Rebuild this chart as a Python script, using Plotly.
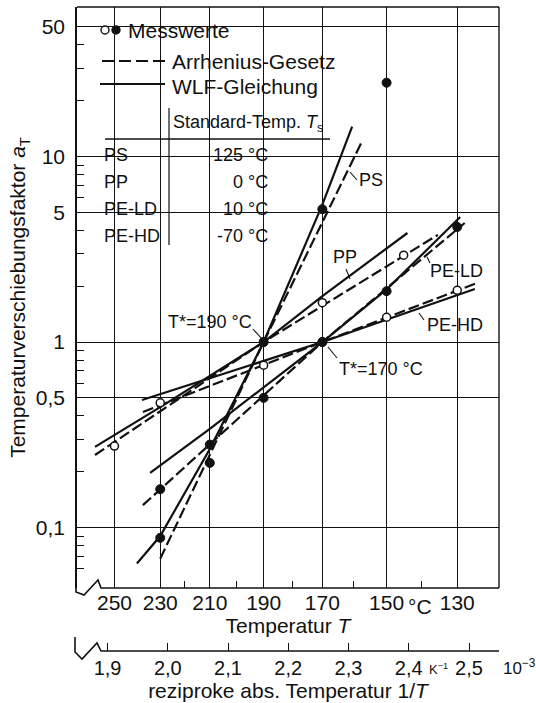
import plotly.graph_objects as go

# ---------------- measured shift factors (T in °C) ----------------
ps_T = [230, 210, 190, 170, 150]
ps_a = [0.088, 0.223, 1.0, 5.2, 25.0]
pp_T = [250, 190, 170, 145]
pp_a = [0.275, 1.0, 1.63, 2.94]
peld_T = [230, 210, 190, 170, 150, 130]
peld_a = [0.161, 0.28, 0.5, 1.0, 1.88, 4.17]
pehd_T = [230, 190, 170, 150, 130]
pehd_a = [0.47, 0.75, 1.0, 1.36, 1.9]

# ---------------- WLF equation (solid) ----------------
ps_wlf_T = [240, 230, 210, 190, 170, 160.5]
ps_wlf_a = [0.064, 0.09, 0.265, 1.0, 5.5, 14.5]
pp_wlf_T = [259, 230, 190, 170, 143.9]
pp_wlf_a = [0.272, 0.446, 1.0, 1.77, 3.87]
peld_wlf_T = [234.3, 210, 190, 170, 150, 129.2]
peld_wlf_a = [0.197, 0.34, 0.57, 1.0, 1.92, 4.72]
pehd_wlf_T = [237.8, 170, 125.3]
pehd_wlf_a = [0.487, 1.0, 1.93]

# ---------------- Arrhenius law (dashed) ----------------
ps_arr_T = [230, 190, 157.5]
ps_arr_a = [0.068, 1.0, 12.0]
pp_arr_T = [259, 190, 135.3]
pp_arr_a = [0.246, 1.0, 3.78]
peld_arr_T = [237.4, 170, 128]
peld_arr_a = [0.132, 1.0, 4.38]
pehd_arr_T = [237.4, 170, 124.7]
pehd_arr_a = [0.419, 1.0, 2.08]

# ---------------- axis ticks ----------------
temp_ticks = [250, 230, 210, 190, 170, 150, 130]
temp_minor = [220, 200, 180, 160, 140]
recip_ticks = [1.9, 2.0, 2.1, 2.2, 2.3, 2.4, 2.5]
recip_labels = ["1,9", "2,0", "2,1", "2,2", "2,3", "2,4", "2,5"]
a_ticks = [0.1, 0.5, 1, 5, 10, 50]
a_labels = ["0,1", "0,5", "1", "5", "10", "50"]
a_minor = [0.06, 0.07, 0.08, 0.09, 0.2, 0.3, 0.4, 0.6, 0.7, 0.8, 0.9,
           2, 3, 4, 6, 7, 8, 9, 20, 30, 40]

# standard temperatures table
table_names = ["PS", "PP", "PE-LD", "PE-HD"]
table_temps = ["125 °C", "0 °C", "10 °C", "-70 °C"]


def inv(T):
    """reciprocal absolute temperature in 10^-3 1/K"""
    return [1000.0 / (t + 273.15) for t in T] if isinstance(T, list) else 1000.0 / (T + 273.15)


W, H = 536, 703
ML, MR, MT, MB = 77, 37, 7, 52
PW, PH = W - ML - MR, H - MT - MB
X_RANGE = [1.8493, 2.5498]


def X(p):  # pixel column -> paper fraction
    return (p - ML) / PW


def Y(p):  # pixel row -> paper fraction
    return (H - MB - p) / PH


FONT = "Liberation Sans, Arial, Helvetica, sans-serif"
BLACK = "#111111"

fig = go.Figure()

line_sets = [
    (ps_wlf_T, ps_wlf_a, "solid"), (ps_arr_T, ps_arr_a, "11px,4px"),
    (pp_wlf_T, pp_wlf_a, "solid"), (pp_arr_T, pp_arr_a, "11px,4px"),
    (peld_wlf_T, peld_wlf_a, "solid"), (peld_arr_T, peld_arr_a, "11px,4px"),
    (pehd_wlf_T, pehd_wlf_a, "solid"), (pehd_arr_T, pehd_arr_a, "11px,4px"),
]
for T, a, dash in line_sets:
    fig.add_trace(go.Scatter(x=inv(T), y=a, mode="lines",
                             line=dict(color=BLACK, width=2.2, dash=dash),
                             showlegend=False, hoverinfo="skip"))

# open symbols: PP, PE-HD
for T, a in [(pp_T, pp_a), (pehd_T, pehd_a)]:
    fig.add_trace(go.Scatter(x=inv(T), y=a, mode="markers",
                             marker=dict(symbol="circle", size=8, color="white",
                                         line=dict(color=BLACK, width=1.5)),
                             showlegend=False))
# filled symbols: PS, PE-LD
for T, a in [(ps_T, ps_a), (peld_T, peld_a)]:
    fig.add_trace(go.Scatter(x=inv(T), y=a, mode="markers",
                             marker=dict(symbol="circle", size=9, color=BLACK,
                                         line=dict(color=BLACK, width=1)),
                             showlegend=False))

# the reciprocal-temperature scale shares the same data (kept invisible)
fig.add_trace(go.Scatter(x=inv(ps_T), y=ps_a, xaxis="x2", yaxis="y",
                         mode="markers", marker=dict(opacity=0),
                         showlegend=False, hoverinfo="skip"))

shapes = []
# white panels behind legend and table (grid hidden there)
for x0, y0, x1, y1 in [(97, 17, 238, 29), (97, 29, 347, 152), (97, 152, 303, 256)]:
    shapes.append(dict(type="rect", xref="paper", yref="paper",
                       x0=X(x0), x1=X(x1), y0=Y(y1), y1=Y(y0),
                       fillcolor="white", line=dict(width=0), layer="between"))


def seg(x0, y0, x1, y1, w=1.3, dash="solid"):
    shapes.append(dict(type="line", xref="paper", yref="paper",
                       x0=X(x0), y0=Y(y0), x1=X(x1), y1=Y(y1),
                       line=dict(color=BLACK, width=w, dash=dash)))


def path(pts, w=1.6):
    d = "M " + " L ".join(f"{X(a):.5f},{Y(b):.5f}" for a, b in pts)
    shapes.append(dict(type="path", xref="paper", yref="paper", path=d,
                       line=dict(color=BLACK, width=w)))


# frame: top and right
seg(77, 7, 499, 7, 1.4)
seg(499, 7, 499, 588, 1.4)
# temperature axis with break
path([(76, 586), (76, 592), (84, 595), (98, 580), (101, 588), (499, 588)])
# reciprocal temperature axis with break
path([(75, 637), (75, 652), (82, 659), (97, 643), (101, 651), (499, 651)])

# table rules
seg(105, 139, 330, 139, 1.6)
seg(169, 108, 169, 245, 1.2)

# legend samples
seg(102, 61, 165, 61, 2, "12px,5px")
seg(100, 84, 165, 84, 2)
for cx, fill in [(105, "white"), (116, BLACK)]:
    shapes.append(dict(type="circle", xref="paper", yref="paper",
                       x0=X(cx - 4), x1=X(cx + 4), y0=Y(34), y1=Y(26),
                       fillcolor=fill, line=dict(color=BLACK, width=1.4)))

# leader lines for labels
for x0, y0, x1, y1 in [(253, 329, 262, 339), (328, 347, 337, 358),
                       (350, 172, 357, 180), (346, 269, 350, 279),
                       (427, 257, 430, 263), (419, 313, 424, 320)]:
    seg(x0, y0, x1, y1, 1.1)

ann = []


def text(s, x, y, size, anchor="left"):
    ann.append(dict(text=s, x=X(x), y=Y(y), xref="paper", yref="paper",
                    xanchor=anchor, yanchor="middle", showarrow=False,
                    font=dict(size=size, color=BLACK, family=FONT)))


text("Messwerte", 126, 31, 21)
text("Arrhenius-Gesetz", 170, 62, 21)
text("WLF-Gleichung", 170, 86, 21)
text("Standard-Temp. <i>T</i><sub>s</sub>", 171, 123, 18)
for i, (n, t) in enumerate(zip(table_names, table_temps)):
    yy = 155 + 27 * i
    text(n, 102, yy, 18)
    text(t, 270, yy, 18, "right")

text("T*=190 °C", 210, 322, 18, "center")
text("T*=170 °C", 381, 369, 18, "center")
text("PS", 357, 180, 18)
text("PP", 331, 257, 18)
text("PE-LD", 428, 271, 18)
text("PE-HD", 425, 325, 18)
text("°C", 420, 606, 21, "center")
text("K<sup>−1</sup>", 438, 669, 13, "center")
text("10<sup>−3</sup>", 501, 667, 17)

fig.update_layout(
    width=W, height=H,
    margin=dict(l=ML, r=MR, t=MT, b=MB, pad=0),
    paper_bgcolor="white", plot_bgcolor="white",
    font=dict(family=FONT, color=BLACK, size=21),
    showlegend=False,
    shapes=shapes, annotations=ann,
    xaxis=dict(
        range=X_RANGE, domain=[0, 1], anchor="y",
        tickmode="array", tickvals=inv(temp_ticks),
        ticktext=[str(t) for t in temp_ticks],
        ticks="inside", ticklen=1, tickcolor=BLACK,
        showgrid=True, gridcolor=BLACK, gridwidth=1.3,
        showline=False, zeroline=False,
        tickfont=dict(size=21),
        title=dict(text="Temperatur <i>T</i>", font=dict(size=21), standoff=2),
        minor=dict(tickmode="array", tickvals=inv(temp_minor), ticks="inside",
                   ticklen=7, tickwidth=1.2, tickcolor=BLACK, showgrid=False),
    ),
    xaxis2=dict(
        range=X_RANGE, overlaying="x", anchor="free", position=0, side="bottom",
        tickmode="array", tickvals=recip_ticks, ticktext=recip_labels,
        ticks="inside", ticklen=8, tickwidth=1.3, tickcolor=BLACK,
        showgrid=False, showline=False, zeroline=False,
        tickfont=dict(size=20), ticklabelstandoff=3,
        title=dict(text="reziproke abs. Temperatur 1/<i>T</i>",
                   font=dict(size=21), standoff=2),
    ),
    yaxis=dict(
        type="log", range=[-1.326, 1.806], domain=[Y(588), 1],
        tickmode="array", tickvals=a_ticks, ticktext=a_labels,
        ticks="inside", ticklen=8, tickwidth=1.3, tickcolor=BLACK,
        showgrid=True, gridcolor=BLACK, gridwidth=1.3,
        showline=True, linecolor=BLACK, linewidth=1.6, zeroline=False,
        tickfont=dict(size=21), ticklabelstandoff=6,
        title=dict(text="Temperaturverschiebungsfaktor <i>a</i><sub>T</sub>",
                   font=dict(size=21), standoff=4),
        minor=dict(tickmode="array", tickvals=a_minor, ticks="inside",
                   ticklen=7, tickwidth=1.2, tickcolor=BLACK, showgrid=False),
    ),
)

fig.write_html("out.html")
